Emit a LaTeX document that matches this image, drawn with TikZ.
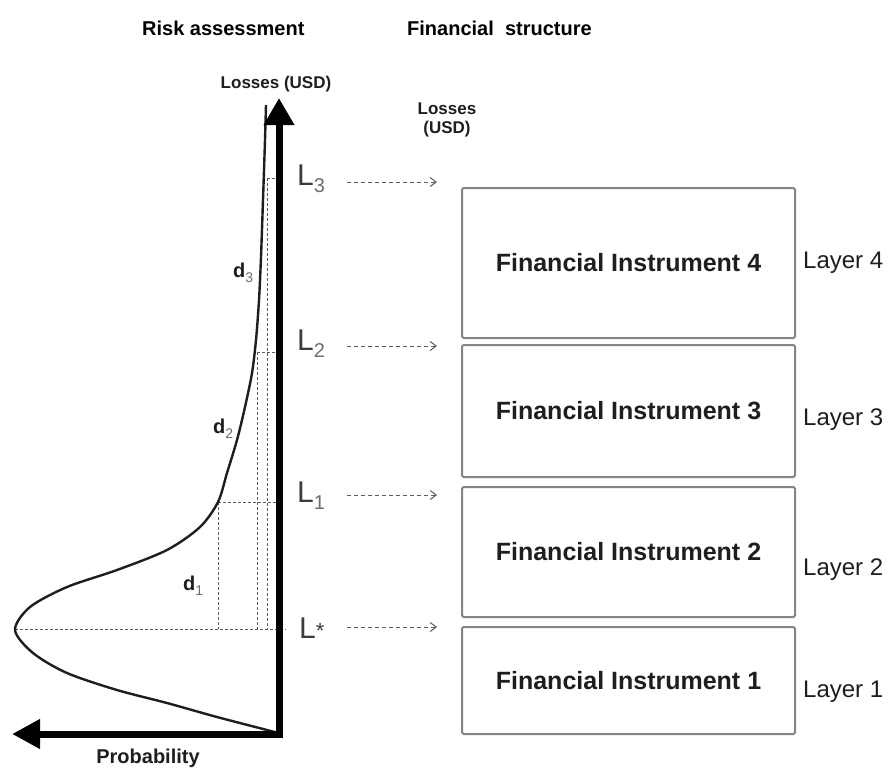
\documentclass[tikz,border=0pt]{standalone}
\usepackage{fontspec}
\setmainfont{Liberation Sans}
\usetikzlibrary{arrows.meta}
\definecolor{ink}{HTML}{1E1E1E}
\definecolor{lgray}{HTML}{3C3C3C}
\definecolor{sgray}{HTML}{6E6E6E}
\definecolor{boxgray}{HTML}{858585}
\definecolor{dashgray}{HTML}{5A5A5A}
\newcommand\fsz[1]{\fontsize{#1}{#1}\selectfont}
\newcommand\Llab[1]{{\fsz{30}L}\raisebox{-7pt}{\fsz{20}\color{sgray}#1}}
\newcommand\dlab[1]{{\bfseries\fsz{20}\color{ink}d}\raisebox{-5pt}{\fsz{14}\color{sgray}#1}}
\begin{document}
\begin{tikzpicture}[x=1pt,y=-1pt,
  title/.style={font=\bfseries\fsz{20}, text=black, anchor=base west, inner sep=0pt},
  axislab/.style={font=\bfseries\fsz{17}, text=ink, inner sep=0pt, align=center},
  lname/.style={text=lgray, anchor=base west, inner sep=0pt},
  dname/.style={anchor=base west, inner sep=0pt},
  fbox/.style={draw=boxgray, line width=2pt, rounded corners=1.5pt, minimum width=333pt, font=\bfseries\fsz{25}, text=ink},
  layer/.style={font=\fsz{24}, text=ink, anchor=base west, inner sep=0pt},
  guide/.style={draw=dashgray, line width=0.9pt, dash pattern=on 3pt off 2pt},
  feed/.style={draw=dashgray, line width=1pt, dash pattern=on 4pt off 3pt, -{Straight Barb[length=6pt,width=9pt,line width=1pt]}},
  axis/.style={draw=black, line width=7pt, line join=miter},
  curve/.style={draw=ink, line width=2.4pt}
]
\useasboundingbox (0,0) rectangle (888,769);
\clip (0,0) rectangle (888,769);
\fill[white] (0,0) rectangle (888,769);

% titles
\node[title] (t1) at (142,35) {Risk assessment};
\node[title] (t2) at (407,35) {Financial\ \ structure};

% axis labels
\node[axislab, anchor=base] (ly) at (276,88) {Losses (USD)};
\node[axislab, anchor=base] (lr) at (447,133) {Losses\\[2pt](USD)};
\node[font=\bfseries\fsz{20}, text=ink, anchor=base, inner sep=0pt] (px) at (148,763) {Probability};

% dashed guide lines
\draw[guide] (15,629) -- (286,629);
\draw[guide] (218,502) -- (218,629);
\draw[guide] (218,502) -- (278,502);
\draw[guide] (257,352) -- (257,629);
\draw[guide] (257,352) -- (278,352);
\draw[guide] (267,178) -- (267,629);
\draw[guide] (267,178) -- (278,178);

% density curve
\draw[curve] plot[smooth, tension=0.5] coordinates {
 (278,733) (267,730) (217,717) (167,703) (117,690) (67,673) (33,653) (15,630)
 (30,607) (67,587) (117,570) (167,550) (200,527) (218,502) (227,473)
 (237,440) (245,407) (252,373) (256,340) (259,300) (261,257) (263,200)
 (265,140) (266,105)};

% axes
\draw[axis, {Triangle[length=28pt,width=28pt]}-{Triangle[length=27pt,width=29pt]}]
  (12,734) -- (279,734) -- (279,98);

% d labels
\node[dname] (d3) at (233,277) {\dlab{3}};
\node[dname] (d2) at (213,433) {\dlab{2}};
\node[dname] (d1) at (183,590) {\dlab{1}};

% L labels
\node[lname] (L3) at (297,185) {\Llab{3}};
\node[lname] (L2) at (297,350) {\Llab{2}};
\node[lname] (L1) at (297,502) {\Llab{1}};
\node[lname] (Ls) at (299,638) {{\fsz{30}L}{\fsz{22}*}};

% feed arrows
\coordinate (a3s) at (347,182); \coordinate (a3e) at (437,182);
\coordinate (a2s) at (347,346); \coordinate (a2e) at (437,346);
\coordinate (a1s) at (347,495); \coordinate (a1e) at (437,495);
\coordinate (a0s) at (347,627); \coordinate (a0e) at (437,627);
\draw[feed] (a3s) -- (a3e);
\draw[feed] (a2s) -- (a2e);
\draw[feed] (a1s) -- (a1e);
\draw[feed] (a0s) -- (a0e);

% boxes
\node[fbox, minimum height=150pt] (b4) at (628.5,263) {Financial Instrument 4};
\node[fbox, minimum height=132pt] (b3) at (628.5,411) {Financial Instrument 3};
\node[fbox, minimum height=130pt] (b2) at (628.5,552) {Financial Instrument 2};
\node[fbox, minimum height=107pt] (b1) at (628.5,680.5) {Financial Instrument 1};

% layer labels
\node[layer] (y4) at (803,268) {Layer 4};
\node[layer] (y3) at (803,425) {Layer 3};
\node[layer] (y2) at (803,575) {Layer 2};
\node[layer] (y1) at (803,697) {Layer 1};
\end{tikzpicture}
\end{document}
